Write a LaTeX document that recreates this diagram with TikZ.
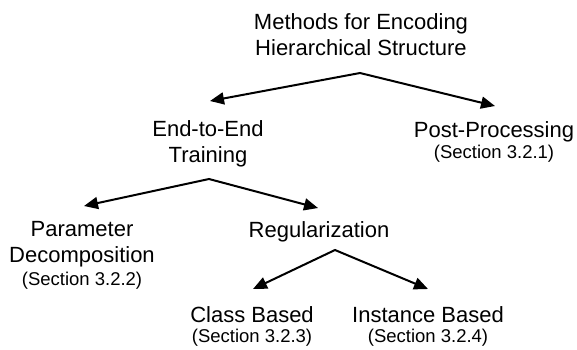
\documentclass[tikz,border=0pt]{standalone}
\usepackage{fontspec}
\setmainfont{Liberation Sans}
\usetikzlibrary{arrows.meta}

\tikzset{
  topic/.style={font=\fontsize{22}{26}\selectfont, align=center, inner sep=0pt, anchor=base},
  sect/.style={font=\fontsize{18.5}{22}\selectfont, inner sep=0pt, anchor=base},
  branch/.style={line width=2pt, line join=miter,
    {Triangle[length=14pt,width=12pt]}-{Triangle[length=14pt,width=12pt]}}
}

\begin{document}
\begin{tikzpicture}[x=1pt,y=-1pt]
  \useasboundingbox (0,0) rectangle (577,349);
  % two-line nodes sit on the baseline of their last line
  \draw
    (361,55) node[topic] (root){Methods for Encoding\\Hierarchical Structure}
    (208,162) node[topic] (e2e){End-to-End\\Training}
    (494,137) node[topic] (post){Post-Processing}
    (494,158) node[sect] (post-sec){(Section 3.2.1)}
    (82,262) node[topic] (param){Parameter\\Decomposition}
    (82,285) node[sect] (param-sec){(Section 3.2.2)}
    (319,237) node[topic] (reg){Regularization}
    (252,322) node[topic] (cls){Class Based}
    (252,342) node[sect] (cls-sec){(Section 3.2.3)}
    (428,322) node[topic] (inst){Instance Based}
    (428,342) node[sect] (inst-sec){(Section 3.2.4)};
  % forks below each parent and the points the arrows run into
  \coordinate (root-fork) at (360,73);
  \coordinate (e2e-in) at (210,101);
  \coordinate (post-in) at (495,106);
  \coordinate (e2e-fork) at (209,179);
  \coordinate (param-in) at (84,206);
  \coordinate (reg-in) at (318,208);
  \coordinate (reg-fork) at (335,250);
  \coordinate (cls-in) at (253,289);
  \coordinate (inst-in) at (428,289);
  \begin{scope}[branch]
    \draw (e2e-in) -- (root-fork) -- (post-in);
    \draw (param-in) -- (e2e-fork) -- (reg-in);
    \draw (cls-in) -- (reg-fork) -- (inst-in);
  \end{scope}
\end{tikzpicture}
\end{document}
